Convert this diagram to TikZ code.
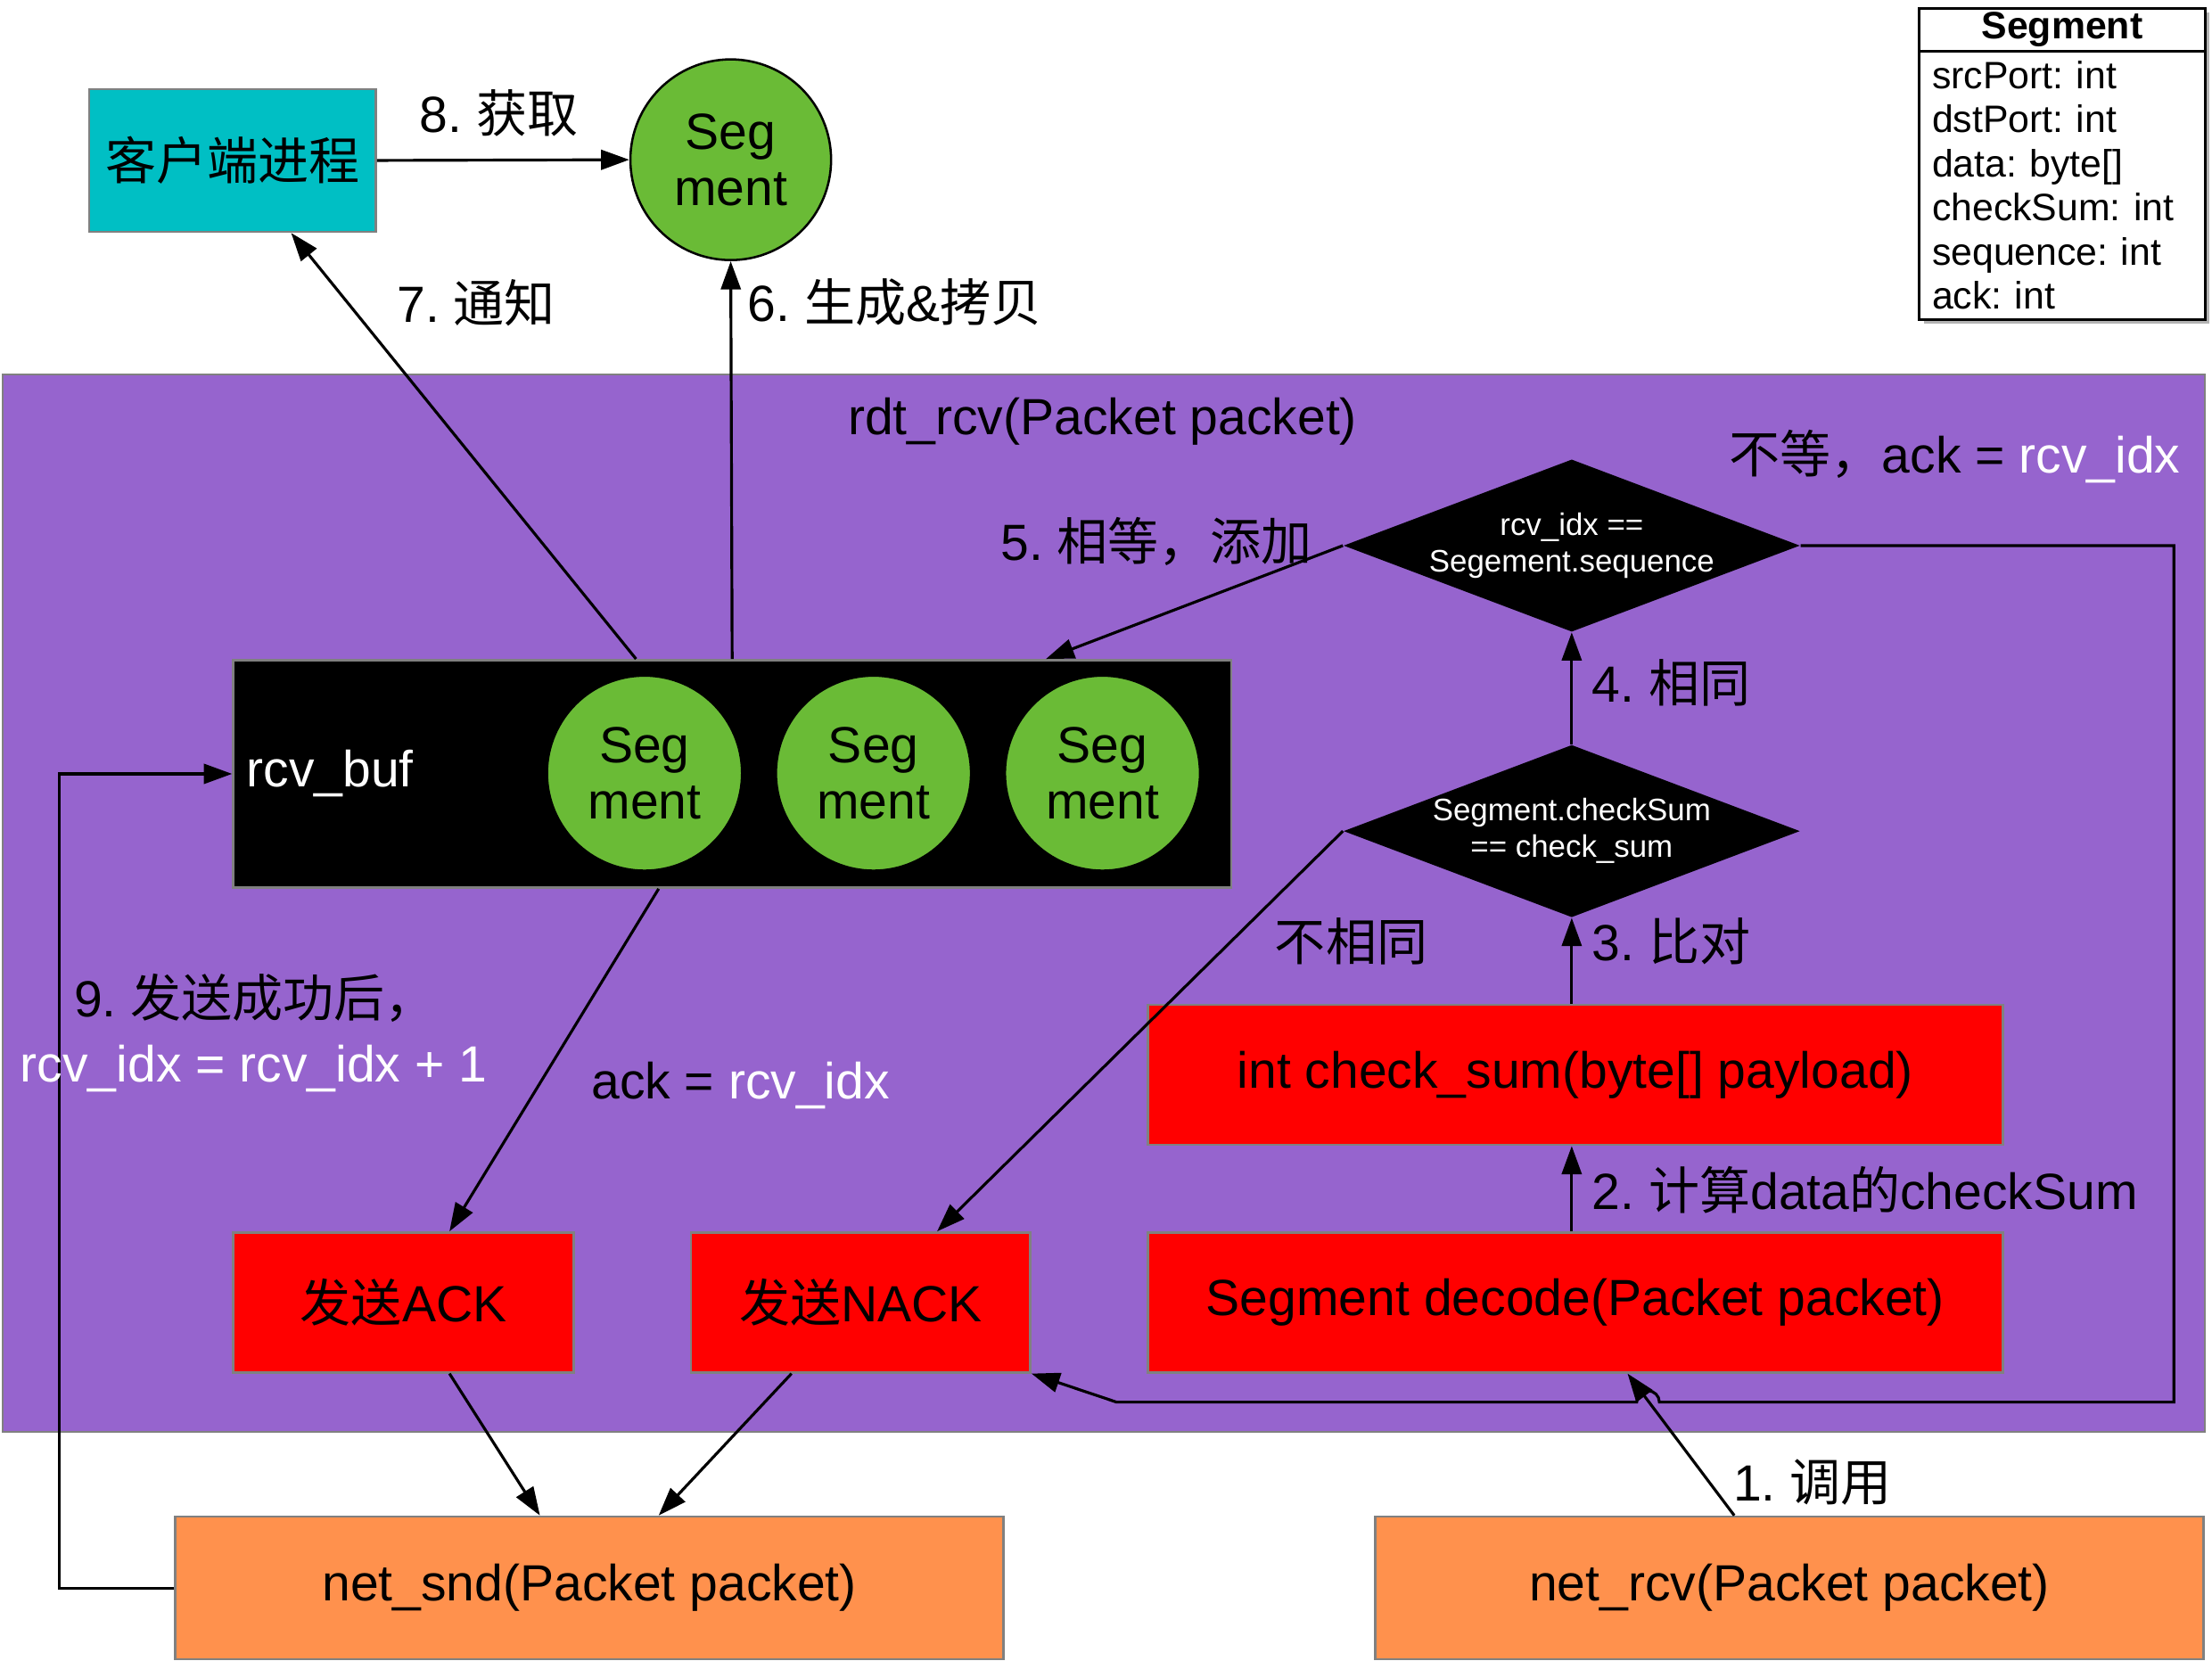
\documentclass[tikz,border=0pt]{standalone}
\usepackage{fontspec}
\setmainfont{Liberation Sans}
\newfontfamily\cjk{Noto Sans CJK SC}
\usetikzlibrary{shapes.geometric, arrows.meta, positioning, calc, shadows}
\definecolor{procpurple}{RGB}{150, 100, 206}
\definecolor{seggreen}{RGB}{106, 187, 54}
\definecolor{clientcyan}{RGB}{0, 191, 196}
\definecolor{netorange}{RGB}{255, 145, 77}
\definecolor{fnred}{RGB}{255, 0, 0}
\definecolor{edgegray}{RGB}{128, 128, 128}
\newcommand{\cn}[1]{{\cjk #1}}
\frenchspacing
\tikzset{
  arr/.style={-{Triangle[length=10pt,width=7pt]}, line width=1pt},
  box/.style={draw=edgegray, line width=0.8pt, inner sep=0pt, font=\fontsize{18pt}{20pt}\selectfont},
  segcircle/.style={circle, draw=black, fill=seggreen, line width=0.8pt, minimum size=69pt, inner sep=0pt, align=center, font=\fontsize{18pt}{20pt}\selectfont},
  decision/.style={diamond, fill=black, inner sep=0pt, minimum width=161.5pt, minimum height=61pt},
  dtext/.style={text=white, align=center, font=\fontsize{11pt}{13pt}\selectfont},
  lbl/.style={inner sep=0pt, font=\fontsize{18pt}{20pt}\selectfont},
  umlbox/.style={draw=black, line width=1pt, fill=white, inner sep=0pt, minimum width=101pt, drop shadow={shadow xshift=1.5pt, shadow yshift=-1.5pt, fill=gray, opacity=0.6}},
}
\begin{document}
\begin{tikzpicture}[x=0.5pt, y=-0.5pt]
  \useasboundingbox (0,0) rectangle (1565,1175);

  % rdt_rcv frame
  \node (rdt) [box, fill=procpurple, minimum width=779pt, minimum height=374pt] at (781,639) {};
  \node (rdtname) [lbl] at (780,298) {rdt\_rcv(Packet packet)};

  % Client side
  \node (client) [box, fill=clientcyan, minimum width=101.5pt, minimum height=50.5pt] at (164.5,113.5) {\cn{客户端进程}};
  \node (segtop) [segcircle, minimum size=71pt] at (517,113) {Seg\\ment};

  % Receive buffer
  \node (buf) [box, fill=black, minimum width=353pt, minimum height=80.5pt] at (518,547.5) {};
  \node (bufname) [lbl, text=white, anchor=west] at (174,547) {rcv\_buf};
  \node (seg1) [segcircle] at (456,547) {Seg\\ment};
  \node (seg2) [segcircle] at (618,547) {Seg\\ment};
  \node (seg3) [segcircle] at (780,547) {Seg\\ment};

  % Checks
  \node (dseq) [decision] at (1112,386) {};
  \node (dseqtext) [dtext] at (dseq) {rcv\_idx ==\\Segement.sequence};
  \node (dsum) [decision] at (1112,588) {};
  \node (dsumtext) [dtext] at (dsum) {Segment.checkSum\\== check\_sum};
  \node (chk) [box, fill=fnred, minimum width=302.5pt, minimum height=49.5pt] at (1114.5,760.5) {int check\_sum(byte[] payload)};
  \node (dec) [box, fill=fnred, minimum width=302.5pt, minimum height=49.5pt] at (1114.5,921.5) {Segment decode(Packet packet)};
  \node (ack) [box, fill=fnred, minimum width=120.5pt, minimum height=49.5pt] at (285.5,921.5) {\cn{发送}ACK};
  \node (nack) [box, fill=fnred, minimum width=120pt, minimum height=49.5pt] at (609,921.5) {\cn{发送}NACK};

  % Network
  \node (snd) [box, fill=netorange, minimum width=293pt, minimum height=50.5pt] at (417,1123.5) {net\_snd(Packet packet)};
  \node (rcv) [box, fill=netorange, minimum width=293pt, minimum height=50.5pt] at (1266,1123.5) {net\_rcv(Packet packet)};

  % Segment class
  \node (clsname) [umlbox, anchor=north west, minimum height=15pt, font=\bfseries\fontsize{13.5pt}{15.6pt}\selectfont] at (1357,5) {Segment};
  \node (clsbody) [umlbox, anchor=north west, minimum height=95pt, text width=92pt, inner xsep=4.5pt, align=left, font=\fontsize{13.5pt}{15.6pt}\selectfont] at (1357,35)
    {srcPort: int\\dstPort: int\\data: byte[]\\checkSum: int\\sequence: int\\ack: int};

  % Connectors
  \coordinate (turn) at (1538,992);
  \coordinate (jmp) at (1174,992);
  \coordinate (back) at (790,992);
  \coordinate (fb) at (42,800);
  \draw[arr] ($(rcv.north)+(-39,0)$) -- ($(dec.south)+(37,0)$);
  \draw[arr] (dec.north -| dsum.south) -- (chk.south -| dsum.south);
  \draw[arr] (chk.north -| dsum.south) -- (dsum.south);
  \draw[arr] (dsum.north) -- (dseq.south);
  \draw[arr] (dseq.west) -- ($(buf.north)+(222,0)$);
  \draw[arr] (dseq.east) -| (turn) -- (jmp) arc (0:180:4pt) -- (back) -- (nack.south east);
  \draw[arr] (dsum.west) -- ($(nack.north)+(54,0)$);
  \draw[arr] (buf.north) -- (segtop.south);
  \draw[arr] ($(buf.north)+(-68,0)$) -- ($(client.south)+(41.5,0)$);
  \draw[arr] (client.east) -- (segtop.west);
  \draw[arr] ($(buf.south)+(-52,0)$) -- ($(ack.north)+(32.5,0)$);
  \draw[arr] ($(ack.south)+(32.5,0)$) -- ($(snd.north)+(-35,0)$);
  \draw[arr] ($(nack.south)+(-49,0)$) -- ($(snd.north)+(49,0)$);
  \draw[arr] (snd.west) -| (fb) |- (buf.west);

  % Labels
  \node (l1) [lbl, anchor=west] at (1226,1049) {1. \cn{调用}};
  \node (l2) [lbl, anchor=west] at (1126,842) {2. \cn{计算}data\cn{的}checkSum};
  \node (l3) [lbl, anchor=west] at (1126,666) {3. \cn{比对}};
  \node (l4) [lbl, anchor=west] at (1126,483) {4. \cn{相同}};
  \node (l5) [lbl] at (818,383) {5. \cn{相等，添加}};
  \node (l6) [lbl] at (633,214) {6. \cn{生成}\&\cn{拷贝}};
  \node (l7) [lbl] at (337,214) {7. \cn{通知}};
  \node (l8) [lbl] at (353,80) {8. \cn{获取}};
  \node (l9a) [lbl, anchor=west] at (52,706) {9. \cn{发送成功后，}};
  \node (l9b) [lbl, anchor=west, text=white] at (14,756) {rcv\_idx = rcv\_idx + 1};
  \node (lneq) [lbl] at (1383,323) {\cn{不等，}ack = \textcolor{white}{rcv\_idx}};
  \node (ldiff) [lbl] at (956,666) {\cn{不相同}};
  \node (lack) [lbl, anchor=west] at (418,768) {ack = \textcolor{white}{rcv\_idx}};
\end{tikzpicture}
\end{document}
